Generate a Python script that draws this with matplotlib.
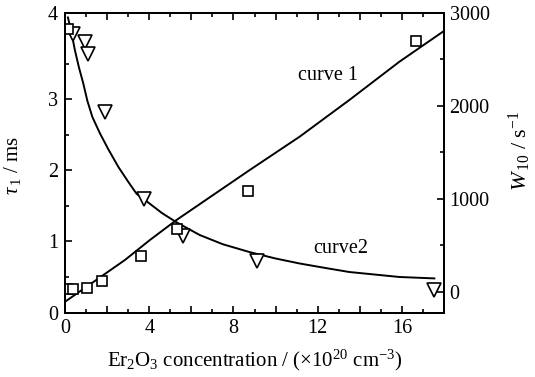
import matplotlib
matplotlib.use("Agg")
from matplotlib import pyplot as plt
from matplotlib.ticker import MultipleLocator

plt.rcParams['font.family'] = ['Liberation Serif', 'DejaVu Serif']
plt.rcParams['mathtext.fontset'] = 'custom'
plt.rcParams['mathtext.rm'] = 'Liberation Serif'
plt.rcParams['mathtext.it'] = 'Liberation Serif:italic'
plt.rcParams['mathtext.fallback'] = 'stix'

# tau_1 (left axis), triangles
tau_x = [0.38, 0.95, 1.11, 1.90, 3.77, 5.62, 9.12, 17.54]
tau_y = [3.92, 3.80, 3.63, 2.82, 1.59, 1.08, 0.72, 0.32]

# W10 (right axis), squares
w_x = [0.14, 0.09, 0.38, 1.04, 1.78, 3.63, 5.33, 8.70, 16.68]
w_y = [2829, 27, 27, 38, 119, 383, 673, 1088, 2694]

# curve 1 (fit of W10)
c1_x = [0, 2.84, 4.03, 5.29, 8.77, 11.14, 13.5, 15.88, 17.95]
c1_y = [-110, 339, 555, 770, 1309, 1668, 2063, 2476, 2800]

# curve 2 (fit of tau_1)
c2_x = [0.14, 0.32, 0.47, 0.66, 0.87, 1.06, 1.30, 1.66, 2.05, 2.53, 3.00, 3.40,
        4.03, 4.60, 5.29, 6.40, 7.50, 8.77, 10.0, 11.14, 12.3, 13.5, 15.88, 17.54]
c2_y = [4.15, 3.92, 3.69, 3.45, 3.22, 2.98, 2.75, 2.52, 2.30, 2.05, 1.84, 1.67,
        1.53, 1.40, 1.27, 1.09, 0.96, 0.85, 0.76, 0.69, 0.63, 0.57, 0.50, 0.48]

x_major = [0, 2, 4, 6, 8, 10, 12, 14, 16, 18]
x_labels = ['0', '', '4', '', '8', '', '12', '', '16', '']

fig = plt.figure(figsize=(5.35, 3.77), dpi=100)
ax = fig.add_axes([0.1215, 0.171, 0.7085, 0.7958])
ax2 = ax.twinx()

ax.plot(c2_x, c2_y, color='black', lw=1.4)
ax.plot(tau_x, tau_y, 'v', ms=10, mfc='white', mec='black', mew=1.2)
ax2.plot(c1_x, c1_y, color='black', lw=1.4)
ax2.plot(w_x, w_y, 's', ms=7, mfc='white', mec='black', mew=1.2)

ax.set_xlim(0, 18)
ax.set_ylim(0, 4.22)
ax2.set_ylim(-226, 3006)

ax.set_xticks(x_major)
ax.set_xticklabels(x_labels)
ax.xaxis.set_minor_locator(MultipleLocator(1))
ax.set_yticks([0, 1, 2, 3, 4.22])
ax.set_yticklabels(['0', '1', '2', '3', '4'])
ax.yaxis.set_minor_locator(MultipleLocator(0.5))
ax2.set_yticks([0, 1000, 2000, 3000])
ax2.yaxis.set_minor_locator(MultipleLocator(500))

ax.tick_params(which='both', direction='in', top=True, right=False, labelsize=14.5, width=1.2)
ax.tick_params(which='major', length=5, pad=5)
ax.tick_params(which='minor', length=3)
ax2.tick_params(which='both', direction='in', labelsize=14.5, width=1.2)
ax2.tick_params(which='major', length=5, pad=4)
ax2.tick_params(which='minor', length=3)

for a in (ax, ax2):
    for s in a.spines.values():
        s.set_linewidth(1.4)

ax.set_xlabel(r'Er$_2$O$_3$ concentration / ($\times$10$^{20}$ cm$^{-3}$)', fontsize=15, labelpad=7)
ax.set_ylabel(r'$\tau_{\,1}$ / ms', fontsize=15)
ax.yaxis.set_label_coords(-0.11, 0.49)
ax2.set_ylabel(r'$W_{\,10}$ / s$^{-1}$', fontsize=16)
ax2.yaxis.set_label_coords(1.165, 0.54)

ax.text(12.5, 3.34, 'curve 1', fontsize=14.5, ha='center', va='center')
ax.text(13.1, 0.90, 'curve2', fontsize=14.5, ha='center', va='center')

fig.savefig('out.png', dpi=100)
